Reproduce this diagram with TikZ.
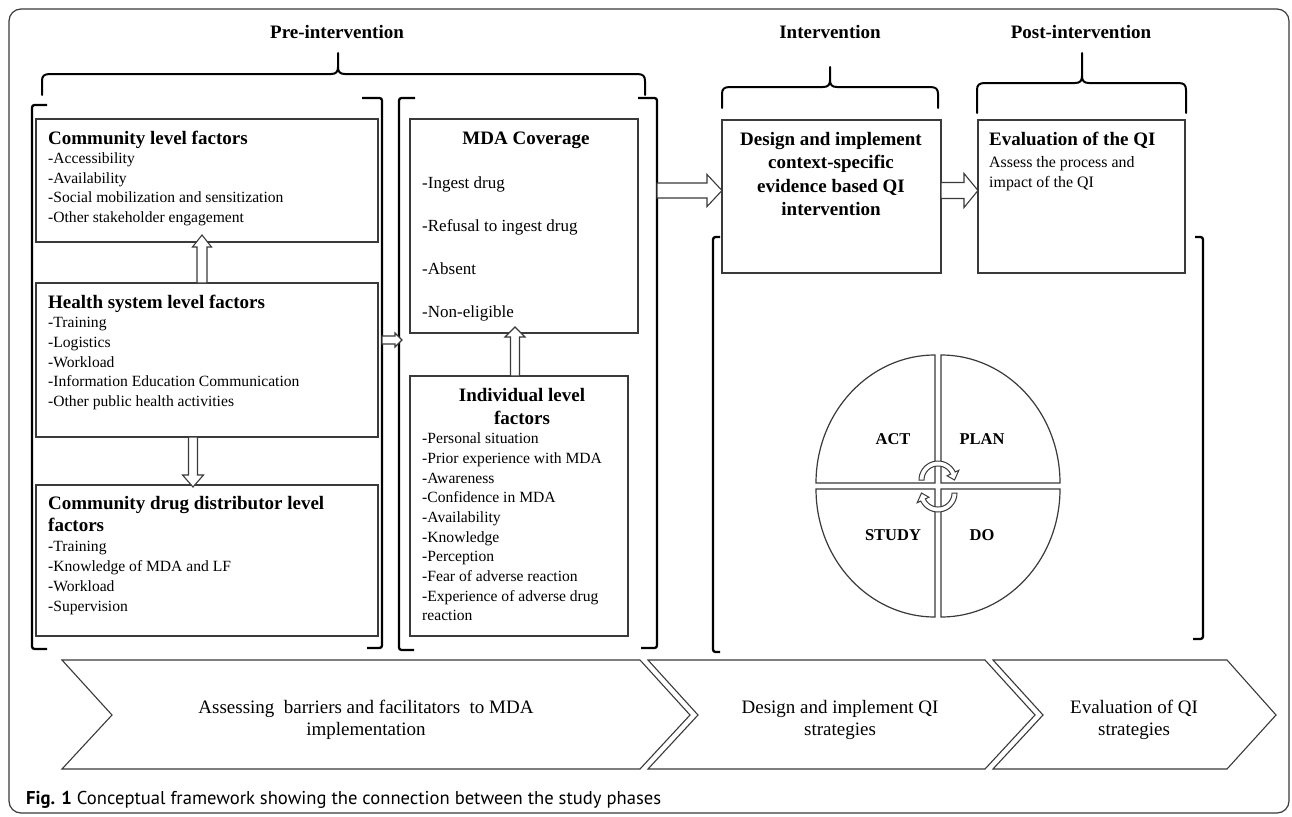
\documentclass[tikz,border=0pt]{standalone}
\usepackage{fontspec}
\setmainfont{Liberation Serif}
\newfontfamily\capfont{PT Sans}
\usetikzlibrary{calc}
\definecolor{boxc}{HTML}{3A3A3A}

\tikzset{
  box/.style={draw=boxc, line width=1.3pt, inner sep=0pt, outer sep=0pt},
  brk/.style={draw=black, line width=2.3pt, rounded corners=2.5pt},
  brc/.style={draw=black, line width=2pt, line cap=round},
  blk/.style={draw=boxc, line width=1.1pt, fill=white},
  chev/.style={draw=boxc, line width=1.1pt},
  quad/.style={draw=boxc, line width=1.2pt},
  band/.style={draw=boxc, line width=1pt, fill=white},
  ttl/.style={font=\fontsize{19}{23}\selectfont\bfseries, inner sep=0pt},
  bod/.style={font=\fontsize{15.6}{19}\selectfont, inner sep=0pt},
  mdai/.style={font=\fontsize{17}{20}\selectfont, inner sep=0pt},
  evb/.style={font=\fontsize{15.9}{19}\selectfont, inner sep=0pt},
  chtxt/.style={font=\fontsize{19}{22}\selectfont, align=center, inner sep=0pt},
  pdsa/.style={font=\fontsize{16.5}{19}\selectfont\bfseries, inner sep=0pt, anchor=base},
}

% vertical block arrow: from, to, shaft half, head half, signed head-base offset
\newcommand\vblk[5]{\draw[blk] let \p1=(#1), \p2=(#2) in
  ({\x1-#3},\y1) -- ({\x1-#3},{\y2+#5}) -- ({\x1-#4},{\y2+#5}) -- (\x1,\y2) --
  ({\x1+#4},{\y2+#5}) -- ({\x1+#3},{\y2+#5}) -- ({\x1+#3},\y1) -- cycle;}
% horizontal (rightward) block arrow
\newcommand\hblk[5]{\draw[blk] let \p1=(#1), \p2=(#2) in
  (\x1,{\y1+#3}) -- ({\x2-#5},{\y1+#3}) -- ({\x2-#5},{\y1+#4}) -- (\x2,\y1) --
  ({\x2-#5},{\y1-#4}) -- ({\x2-#5},{\y1-#3}) -- (\x1,{\y1-#3}) -- cycle;}
% curly brace: x1, x2, xmid, yh, ytip, yend
\newcommand\crbrace[6]{%
  \draw[brc] (#1,#6) -- (#1,{#4+7}) .. controls (#1,{#4+2}) and ({#1+2},#4) .. ({#1+8},#4)
    -- ({#3-7},#4) .. controls ({#3-2},#4) and (#3,{#4-2}) .. (#3,{#4-7}) -- (#3,#5);
  \draw[brc] (#3,{#4-7}) .. controls (#3,{#4-2}) and ({#3+2},#4) .. ({#3+7},#4)
    -- ({#2-8},#4) .. controls ({#2-2},#4) and (#2,{#4+2}) .. (#2,{#4+7}) -- (#2,#6);}
% text lines: name, x, y0, dy, style, list
\newcommand\txtlines[6]{\foreach \t [count=\i from 0] in {#6}
  {\node[#5, anchor=base west] (#1\i) at (#2,{#3+\i*#4}) {\t};}}
% quarter ellipse
\newcommand\quadr[4]{\draw[quad] (#1,#2) -- (#1,{#2+#4*128})
  .. controls ({#1+#3*65.7},{#2+#4*128}) and ({#1+#3*119},{#2+#4*70.7}) .. ({#1+#3*119},#2) -- cycle;}

\begin{document}
\begin{tikzpicture}[x=1pt,y=-1pt]
\useasboundingbox (0,0) rectangle (1292,816);
\fill[white] (0,0) rectangle (1292,816);
\draw[boxc, line width=1.2pt, rounded corners=12pt] (9,9) rectangle (1289,813);

% phase titles
\node[ttl, anchor=base] (tpre) at (337,39) {Pre-intervention};
\node[ttl, anchor=base] (tint) at (830,39) {Intervention};
\node[ttl, anchor=base] (tpost) at (1081,39) {Post-intervention};

% braces
\crbrace{42}{645}{338}{74}{53}{95}
\crbrace{722}{938}{830}{87}{67}{108}
\crbrace{977}{1186}{1082}{83}{53}{113}

% square brackets
\draw[brk] (47,105) -- (32,105) -- (32,649) -- (47,649);
\draw[brk] (362,98) -- (382,98) -- (382,648) -- (367,648);
\draw[brk] (415,98) -- (399,98) -- (399,650) -- (414,650);
\draw[brk] (638,98) -- (657,98) -- (657,648) -- (641,648);
\draw[brk] (720,237) -- (713,237) -- (713,652) -- (720,652);
\draw[brk] (1195,237) -- (1203,237) -- (1203,639) -- (1193,639);

% boxes
\node[box, minimum width=342pt, minimum height=123pt] (comm) at (207,180.5) {};
\node[box, minimum width=342pt, minimum height=154pt] (health) at (207,360) {};
\node[box, minimum width=342pt, minimum height=151pt] (cdd) at (207,560.5) {};
\node[box, minimum width=228pt, minimum height=214pt] (mda) at (524,226) {};
\node[box, minimum width=218pt, minimum height=260pt] (indiv) at (519,506) {};
\node[box, minimum width=219pt, minimum height=153pt] (design) at (831.5,196.5) {};
\node[box, minimum width=207pt, minimum height=153pt] (eval) at (1081.5,196.5) {};

% box texts
\node[ttl, anchor=base west] (commT) at (48,144) {Community level factors};
\txtlines{commL}{48}{163.7}{19.5}{bod}{-Accessibility,-Availability,-Social mobilization and sensitization,-Other stakeholder engagement}

\node[ttl, anchor=base west] (healthT) at (48,308) {Health system level factors};
\txtlines{healthL}{48}{327.7}{19.75}{bod}{-Training,-Logistics,-Workload,-Information Education Communication,-Other public health activities}

\node[ttl, anchor=base west] (cddT1) at (48,509) {Community drug distributor level};
\node[ttl, anchor=base west] (cddT2) at (48,531) {factors};
\txtlines{cddL}{48}{551}{20}{bod}{-Training,-Knowledge of MDA and LF,-Workload,-Supervision}

\node[ttl, anchor=base] (mdaT) at (526,144) {MDA Coverage};
\txtlines{mdaL}{422}{188.1}{43}{mdai}{-Ingest drug,-Refusal to ingest drug,-Absent,-Non-eligible}

\node[ttl, anchor=base] (indT1) at (522,401) {Individual level};
\node[ttl, anchor=base] (indT2) at (522,424) {factors};
\txtlines{indL}{422}{443.7}{19.67}{bod}{-Personal situation,-Prior experience with MDA,-Awareness,-Confidence in MDA,-Availability,-Knowledge,-Perception,-Fear of adverse reaction,-Experience of adverse drug,reaction}

\node[font=\fontsize{19}{23.3}\selectfont\bfseries, align=center, inner sep=0pt] (designT) at (831,174)
  {Design and implement\\context-specific\\evidence based QI\\intervention};

\node[ttl, anchor=base west] (evalT) at (989,145) {Evaluation of the QI};
\txtlines{evalL}{989}{167.8}{19.7}{evb}{Assess the process and,impact of the QI}

% block arrows
\coordinate (a1s) at ($(health.north)+(-5,0)$);
\coordinate (a1e) at ($(comm.south)+(-5,-7)$);
\vblk{a1s}{a1e}{5pt}{9.5pt}{-12pt}
\coordinate (a2s) at ($(health.south)+(-14,0)$);
\coordinate (a2e) at ($(cdd.north)+(-14,2)$);
\vblk{a2s}{a2e}{4.5pt}{10.5pt}{12pt}
\coordinate (a4s) at ($(indiv.north)+(-4,0)$);
\coordinate (a4e) at ($(mda.south)+(-9,-6)$);
\vblk{a4s}{a4e}{4.5pt}{10pt}{-10pt}
\coordinate (g1r) at (382,340);
\coordinate (g2l) at (402,340);
\hblk{g1r}{g2l}{4pt}{7pt}{7pt}
\coordinate (g2r) at (657,190.5);
\coordinate (a5e) at ($(design.west)+(0,-6)$);
\hblk{g2r}{a5e}{7.5pt}{16pt}{15pt}
\coordinate (a6s) at ($(design.east)+(0,-6)$);
\coordinate (a6e) at ($(eval.west)+(0,-6)$);
\hblk{a6s}{a6e}{8pt}{17pt}{14pt}

% PDSA cycle
\quadr{941}{483}{1}{-1}
\quadr{935}{483}{-1}{-1}
\quadr{935}{489}{-1}{1}
\quadr{941}{489}{1}{1}
\node[pdsa] (act) at (893,444) {ACT};
\node[pdsa] (plan) at (982,444) {PLAN};
\node[pdsa] (study) at (893,540.5) {STUDY};
\node[pdsa] (do) at (982,540.5) {DO};
\filldraw[band] plot[domain=180:335,samples=30] ({938+19*cos(\x)},{480+19*sin(\x)})
  -- ({938+23*cos(335)},{480+23*sin(335)}) -- ({938+16.5},{480})
  -- ({938+10*cos(335)},{480+10*sin(335)})
  -- plot[domain=335:180,samples=30] ({938+14*cos(\x)},{480+14*sin(\x)}) -- cycle;
\filldraw[band] plot[domain=0:155,samples=30] ({938+19*cos(\x)},{493+19*sin(\x)})
  -- ({938+23*cos(155)},{493+23*sin(155)}) -- ({938-16.5},{493})
  -- ({938+10*cos(155)},{493+10*sin(155)})
  -- plot[domain=155:0,samples=30] ({938+14*cos(\x)},{493+14*sin(\x)}) -- cycle;

% chevrons
\draw[chev] (62,660) -- (640,660) -- (690,715) -- (640,769) -- (62,769) -- (112,715) -- cycle;
\draw[chev] (648,660) -- (985,660) -- (1035,715) -- (985,769) -- (648,769) -- (698,715) -- cycle;
\draw[chev] (993,660) -- (1227,660) -- (1276,715) -- (1227,769) -- (993,769) -- (1043,715) -- cycle;
\node[chtxt] (c1) at (366,720) {Assessing\ \ barriers and facilitators\ \ to MDA\\implementation};
\node[chtxt] (c2) at (840,720) {Design and implement QI\\strategies};
\node[chtxt] (c3) at (1134,720) {Evaluation of QI\\strategies};

% caption
\node[anchor=base west, inner sep=0pt, font=\capfont\fontsize{18.6}{22}\selectfont] (cap) at (26,804)
  {\textbf{Fig. 1} Conceptual framework showing the connection between the study phases};
\end{tikzpicture}
\end{document}
